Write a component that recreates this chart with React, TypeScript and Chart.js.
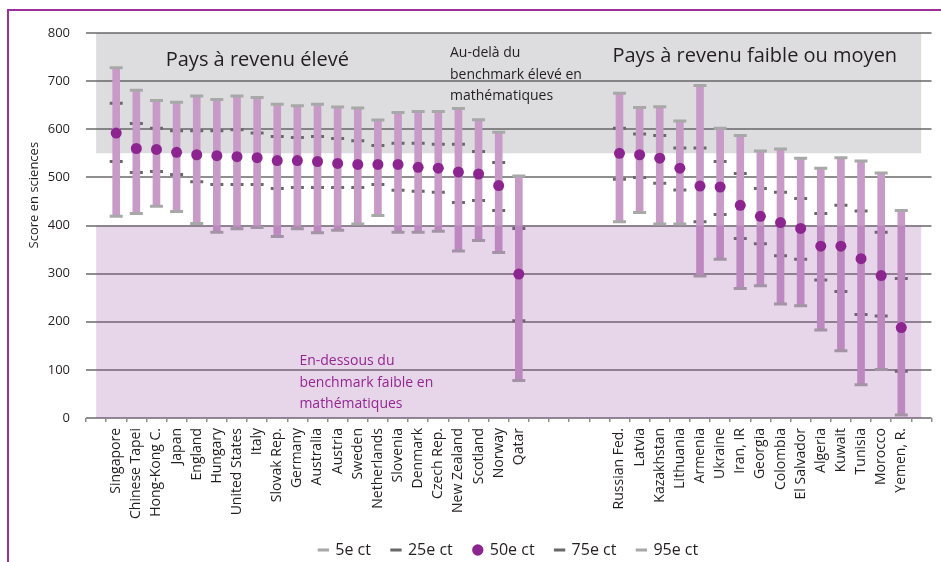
import React, { useEffect, useRef } from 'react';
import { Chart, registerables } from 'chart.js';

Chart.register(...registerables);

// ---------- Data ----------
const highIncomeCountries = [
  'Singapore', 'Chinese Tapei', 'Hong-Kong C.', 'Japan', 'England', 'Hungary', 'United States',
  'Italy', 'Slovak Rep.', 'Germany', 'Australia', 'Austria', 'Sweden', 'Netherlands', 'Slovenia',
  'Denmark', 'Czech Rep.', 'New Zealand', 'Scotland', 'Norway', 'Qatar',
];
const highP5 = [419, 425, 440, 429, 404, 386, 393, 396, 377, 393, 385, 390, 403, 421, 386, 386, 388, 347, 369, 344, 78];
const highP25 = [533, 510, 512, 506, 491, 485, 485, 485, 477, 479, 479, 479, 479, 485, 473, 471, 469, 448, 452, 431, 202];
const highP50 = [592, 560, 558, 552, 547, 545, 543, 541, 535, 535, 533, 529, 527, 527, 527, 521, 519, 511, 507, 483, 299];
const highP75 = [654, 612, 602, 597, 597, 597, 599, 592, 585, 583, 585, 581, 576, 566, 571, 571, 569, 569, 554, 531, 394];
const highP95 = [728, 681, 660, 656, 669, 662, 669, 666, 652, 649, 652, 646, 644, 619, 635, 637, 637, 643, 620, 594, 503];

const lowMiddleIncomeCountries = [
  'Russian Fed.', 'Latvia', 'Kazakhstan', 'Lithuania', 'Armenia', 'Ukraine', 'Iran, IR', 'Georgia',
  'Colombia', 'El Salvador', 'Algeria', 'Kuwait', 'Tunisia', 'Morocco', 'Yemen, R.',
];
const lowP5 = [408, 427, 403, 403, 295, 330, 269, 275, 237, 233, 183, 140, 69, 101, 6];
const lowP25 = [496, 500, 488, 474, 408, 423, 373, 362, 337, 330, 287, 263, 215, 212, 97];
const lowP50 = [550, 547, 540, 519, 482, 480, 442, 419, 406, 394, 357, 357, 331, 296, 188];
const lowP75 = [602, 590, 587, 561, 561, 533, 508, 477, 469, 456, 425, 442, 430, 386, 290];
const lowP95 = [675, 645, 647, 617, 691, 602, 587, 555, 559, 540, 519, 541, 534, 509, 431];

const percentileLabels = ['5e ct', '25e ct', '50e ct', '75e ct', '95e ct'];
const gapSlots = 4;
const yMin = 0;
const yMax = 800;
const yStep = 100;
const highBenchmark = 550;
const lowBenchmark = 400;

const yTitle = 'Score en sciences';
const highHeader = 'Pays à revenu élevé';
const lowHeader = 'Pays à revenu faible ou moyen';
const aboveNote = ['Au-delà du', 'benchmark élevé en', 'mathématiques'];
const belowNote = ['En-dessous du', 'benchmark faible en', 'mathématiques'];

// ---------- Styling ----------
const FONT = '"Open Sans", sans-serif';
const TEXT = '#231f20';
const PURPLE = '#8d2590';
const FRAME = '#9c2f9f';
const GRID = '#8e8e8e';

function slots<T>(high: T[], low: T[], empty: T): T[] {
  return [empty, ...high, ...Array(gapSlots).fill(empty), ...low, empty];
}

const labels = slots<string>(highIncomeCountries, lowMiddleIncomeCountries, '');
const p5 = slots<number | null>(highP5, lowP5, null);
const p25 = slots<number | null>(highP25, lowP25, null);
const p50 = slots<number | null>(highP50, lowP50, null);
const p75 = slots<number | null>(highP75, lowP75, null);
const p95 = slots<number | null>(highP95, lowP95, null);
const ranges = p5.map((v, i) => (v === null || p95[i] === null ? null : [v, p95[i] as number]));

const annotations = [
  { lines: [highHeader], xIndex: 3.46, yValue: 744, size: 20, color: TEXT, lineHeight: 0 },
  { lines: aboveNote, xIndex: 17.58, yValue: 758, size: 14, color: TEXT, lineHeight: 21.5 },
  { lines: [lowHeader], xIndex: 25.65, yValue: 752, size: 20, color: TEXT, lineHeight: 0 },
  { lines: belowNote, xIndex: 10.1, yValue: 118, size: 14, color: '#93278f', lineHeight: 21.5 },
];
const yTitleValue = 463;

const annotationPlugin = {
  id: 'textAnnotations',
  afterDatasetsDraw(chart: any) {
    const { ctx, scales } = chart;
    const x = scales.x;
    const y = scales.y;
    ctx.save();
    ctx.textBaseline = 'middle';
    ctx.textAlign = 'left';
    for (const a of annotations) {
      ctx.font = `${a.size}px ${FONT}`;
      ctx.fillStyle = a.color;
      const px = x.getPixelForValue(a.xIndex);
      const py = y.getPixelForValue(a.yValue);
      a.lines.forEach((line, i) => ctx.fillText(line, px, py + i * a.lineHeight));
    }
    ctx.translate(chart.chartArea.left - 52, y.getPixelForValue(yTitleValue));
    ctx.rotate(-Math.PI / 2);
    ctx.textAlign = 'center';
    ctx.font = `13px ${FONT}`;
    ctx.fillStyle = TEXT;
    ctx.fillText(yTitle, 0, 0);
    ctx.restore();
  },
};

function pointSet(label: string, data: (number | null)[], color: string, style: string, radius: number, order: number) {
  return {
    type: 'line',
    label,
    data,
    showLine: false,
    pointStyle: style,
    pointRadius: radius,
    pointBorderWidth: style === 'line' ? 3 : 0,
    pointBorderColor: color,
    pointBackgroundColor: color,
    borderColor: color,
    backgroundColor: color,
    order,
  } as any;
}

export default function App() {
  const canvasRef = useRef<HTMLCanvasElement | null>(null);

  useEffect(() => {
    const canvas = canvasRef.current;
    if (!canvas) return;
    const chart = new Chart(canvas, {
      type: 'bar',
      data: {
        labels,
        datasets: [
          {
            type: 'line',
            label: 'high band',
            data: labels.map(() => yMax),
            fill: { value: highBenchmark },
            backgroundColor: 'rgba(100,100,110,0.22)',
            borderWidth: 0,
            pointRadius: 0,
            order: 10,
          } as any,
          {
            type: 'line',
            label: 'low band',
            data: labels.map(() => lowBenchmark),
            fill: { value: yMin },
            backgroundColor: 'rgba(150,79,163,0.23)',
            borderWidth: 0,
            pointRadius: 0,
            order: 6,
          } as any,
          {
            type: 'bar',
            label: 'range',
            data: ranges as any,
            backgroundColor: '#c79ac8',
            borderWidth: 0,
            barThickness: 7,
            order: 8,
          } as any,
          pointSet(percentileLabels[0], p5, '#a8a8a8', 'line', 6.5, 7),
          pointSet(percentileLabels[1], p25, '#686868', 'line', 6.5, 9),
          pointSet(percentileLabels[2], p50, PURPLE, 'circle', 5.5, 5),
          pointSet(percentileLabels[3], p75, '#686868', 'line', 6.5, 9),
          pointSet(percentileLabels[4], p95, '#a8a8a8', 'line', 6.5, 7),
        ],
      },
      options: {
        animation: false,
        responsive: false,
        devicePixelRatio: 1,
        events: [],
        layout: { padding: { top: 33, right: 7, bottom: -6, left: 0 } },
        scales: {
          x: {
            type: 'category',
            offset: true,
            grid: {
              offset: true,
              drawOnChartArea: false,
              drawTicks: true,
              tickLength: 4,
              color: GRID,
              lineWidth: 1.5,
            },
            border: { display: false },
            ticks: {
              autoSkip: false,
              maxRotation: 90,
              minRotation: 90,
              padding: 6,
              color: TEXT,
              font: { family: FONT, size: 14 },
            },
            afterFit(scale: any) {
              scale.height = 103;
              scale.paddingLeft = 0;
              scale.paddingRight = 0;
            },
          },
          y: {
            min: yMin,
            max: yMax,
            grid: { color: GRID, lineWidth: 2, drawTicks: false },
            border: { display: false },
            ticks: {
              stepSize: yStep,
              padding: 16,
              color: TEXT,
              font: { family: FONT, size: 13 },
            },
            afterFit(scale: any) {
              scale.width = 86;
            },
          },
        },
        plugins: {
          tooltip: { enabled: false },
          title: { display: false },
          legend: {
            display: true,
            position: 'bottom',
            fullSize: false,
            labels: {
              usePointStyle: true,
              boxWidth: 8,
              boxHeight: 8,
              padding: 21,
              color: TEXT,
              font: { family: FONT, size: 16 },
              filter: (item: any) => item.datasetIndex >= 3,
              sort: (a: any, b: any) => a.datasetIndex - b.datasetIndex,
            },
          },
        },
      } as any,
      plugins: [annotationPlugin],
    });
    return () => chart.destroy();
  }, []);

  return (
    <div style={{ position: 'absolute', left: 0, top: 0, width: 941, height: 562, overflow: 'hidden', background: '#fff' }}>
      <canvas ref={canvasRef} width={941} height={562} style={{ position: 'absolute', left: 0, top: 0 }} />
      <div
        style={{
          position: 'absolute',
          left: 7,
          top: 9,
          width: 960,
          height: 600,
          borderLeft: `2px solid ${FRAME}`,
          borderTop: `2px solid ${FRAME}`,
          pointerEvents: 'none',
        }}
      />
    </div>
  );
}
